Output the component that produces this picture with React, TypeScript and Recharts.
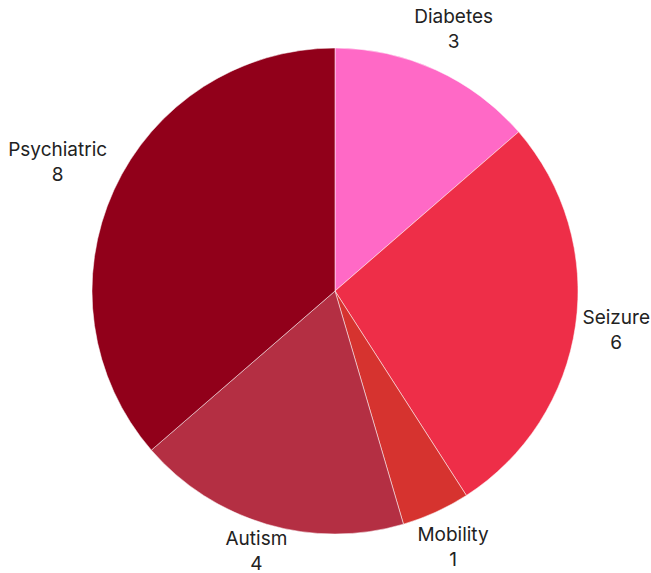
import React from 'react';
import { PieChart, Pie, Cell } from 'recharts';

const categories = ['Diabetes', 'Seizure', 'Mobility', 'Autism', 'Psychiatric'];
const counts = [3, 6, 1, 4, 8];
const sliceColors = ['#FF69C6', '#EE2E48', '#D6332F', '#B42F43', '#91001A'];

const data = categories.map((name, i) => ({ name, value: counts[i] }));

const WIDTH = 651;
const HEIGHT = 573;
const RADIAN = Math.PI / 180;
const FONT_SIZE = 19;
const LINE_GAP = 25;

let ctx: CanvasRenderingContext2D | null = null;
const textWidth = (s: string) => {
  if (!ctx) ctx = document.createElement('canvas').getContext('2d');
  if (!ctx) return s.length * 9.5;
  ctx.font = `${FONT_SIZE}px Inter`;
  return ctx.measureText(s).width;
};

// label box sits just outside the slice, pushed out by its own size
const renderLabel = (props: any) => {
  const { cx, cy, midAngle, outerRadius, name, value } = props;
  const ux = Math.cos(-midAngle * RADIAN);
  const uy = Math.sin(-midAngle * RADIAN);
  const hw = Math.max(textWidth(name), textWidth(String(value))) / 2;
  const hh = 19;
  const dist = outerRadius + 9 + hw * Math.abs(ux) + hh * Math.abs(uy);
  let x = cx + dist * ux;
  let y = cy + dist * uy - 8;
  x = Math.min(Math.max(x, hw + 1), WIDTH - hw - 1);
  // keep the second line inside the picture
  y = Math.min(y, HEIGHT - 3 - LINE_GAP);
  return (
    <text
      x={x}
      y={y}
      textAnchor="middle"
      fill="#222"
      style={{ fontFamily: 'Inter', fontSize: FONT_SIZE }}
    >
      <tspan x={x} y={y}>{name}</tspan>
      <tspan x={x} y={y + LINE_GAP}>{value}</tspan>
    </text>
  );
};

const App: React.FC = () => {
  return (
    <div style={{ position: 'absolute', left: 0, top: 0, background: '#fff' }}>
      <PieChart width={WIDTH} height={HEIGHT} margin={{ top: 0, right: 0, bottom: 0, left: 0 }}>
        <Pie
          data={data}
          dataKey="value"
          nameKey="name"
          cx={335}
          cy={291}
          outerRadius={243}
          startAngle={90}
          endAngle={-270}
          stroke="#fff"
          strokeWidth={0.5}
          label={renderLabel}
          labelLine={false}
          isAnimationActive={false}
        >
          {data.map((d, i) => (
            <Cell key={d.name} fill={sliceColors[i]} />
          ))}
        </Pie>
      </PieChart>
    </div>
  );
};

export default App;
